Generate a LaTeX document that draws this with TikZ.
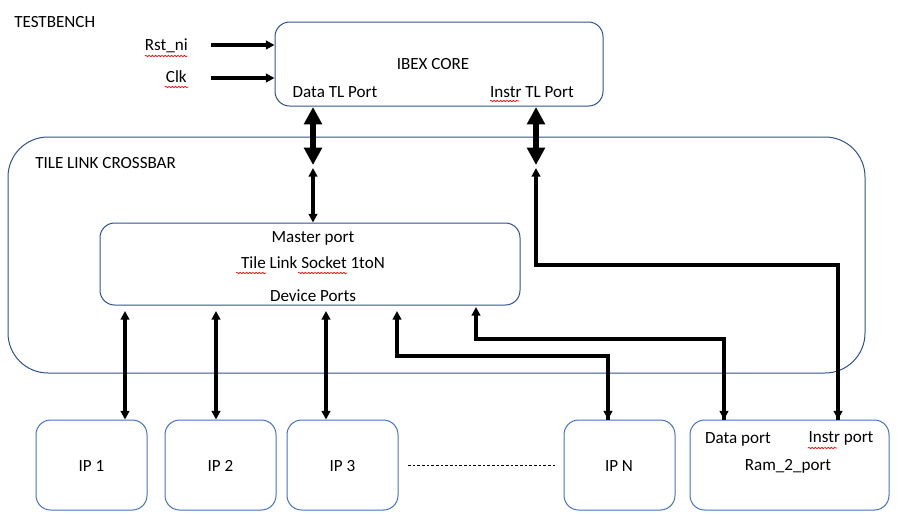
\documentclass[tikz,border=0pt]{standalone}
\usepackage{fontspec}
\setmainfont{Carlito}
\usetikzlibrary{arrows.meta,decorations.pathmorphing}
\definecolor{boxdark}{HTML}{2F528F}
\definecolor{boxlight}{HTML}{4472C4}
\tikzset{
  box/.style={draw=boxdark, line width=0.75pt, rounded corners=11pt, inner sep=0pt},
  lbox/.style={draw=boxlight, line width=0.75pt, rounded corners=11pt, inner sep=0pt},
  lbl/.style={inner sep=0pt, font=\fontsize{12.8}{15}\selectfont},
  arr/.style={line width=2.3pt, -{Triangle[length=6.5pt,width=6.5pt]}},
  darr/.style={line width=2.3pt, {Triangle[length=6.5pt,width=6.5pt]}-{Triangle[length=6.5pt,width=6.5pt]}},
  rarr/.style={line width=2.3pt, {Triangle[length=6.5pt,width=6.5pt]}-, rounded corners=0pt},
  bigarr/.style={line width=4.5pt, {Triangle[length=13pt,width=13pt]}-{Triangle[length=13pt,width=13pt]}},
  squig/.style={red, line width=0.5pt, decorate, decoration={snake, amplitude=0.55pt, segment length=2.4pt}},
}
\begin{document}
\begin{tikzpicture}[x=0.75pt,y=-0.75pt]
\useasboundingbox (0,0) rectangle (905,515);
% boxes
\node[box, minimum width=246pt, minimum height=63pt] (ibex) at (439,64) {};
\node[box, rounded corners=30pt, minimum width=642.75pt, minimum height=177pt] (xbar) at (436.5,255) {};
\node[box, minimum width=315pt, minimum height=61.5pt] (sock) at (310,264) {};
\node[lbox, minimum width=83.25pt, minimum height=67.5pt] (ip1) at (91.5,465) {};
\node[lbox, minimum width=83.25pt, minimum height=67.5pt] (ip2) at (220.5,465) {};
\node[lbox, minimum width=83.25pt, minimum height=67.5pt] (ip3) at (342.5,465) {};
\node[lbox, minimum width=83.25pt, minimum height=67.5pt] (ipn) at (619.5,465) {};
\node[lbox, minimum width=149.25pt, minimum height=67.5pt] (ram) at (789.5,465) {};
% labels
\node[lbl, anchor=west] (tb) at (14,22) {TESTBENCH};
\node[lbl, anchor=east] (rst) at (188,46) {Rst\_ni};
\node[lbl, anchor=east] (clk) at (187,77) {Clk};
\node[lbl] (ibexl) at (433,64) {IBEX CORE};
\node[lbl] (dtl) at (335,92) {Data TL Port};
\node[lbl] (itl) at (532,92) {Instr TL Port};
\node[lbl, anchor=west] (xbl) at (35,163) {TILE LINK CROSSBAR};
\node[lbl] (mp) at (313,238) {Master port};
\node[lbl] (tls) at (313,263) {Tile Link Socket 1toN};
\node[lbl] (dp) at (313,296) {Device Ports};
\node[lbl] (ip1l) at (91.5,466) {IP 1};
\node[lbl] (ip2l) at (220.5,466) {IP 2};
\node[lbl] (ip3l) at (342.5,466) {IP 3};
\node[lbl] (ipnl) at (619,466) {IP N};
\node[lbl] (dport) at (738,439) {Data port};
\node[lbl] (iport) at (841,438) {Instr port};
\node[lbl] (raml) at (788,466) {Ram\_2\_port};
% spell-check squiggles
\draw[squig] (145,56) -- (187,56);
\draw[squig] (165,87) -- (188,87);
\draw[squig] (490,101) -- (519,101);
\draw[squig] (236,273) -- (266,273);
\draw[squig] (298,273) -- (347,273);
\draw[squig] (808,448) -- (837,448);
% coordinates
\coordinate (rs0) at (211,45);
\coordinate (ck0) at (211,78);
\coordinate (d0) at (313,107);
\coordinate (d1) at (313,165);
\coordinate (d2) at (313,168);
\coordinate (i0) at (536,107);
\coordinate (i1) at (536,165);
\coordinate (i2) at (536,168);
\coordinate (ib) at (536,265);
\coordinate (ic) at (838,265);
\coordinate (a1) at (125,311);
\coordinate (a2) at (216,311);
\coordinate (a3) at (326,311);
\coordinate (n0) at (397,311);
\coordinate (n1) at (397,356);
\coordinate (n2) at (608,356);
\coordinate (r0) at (476,307);
\coordinate (r1) at (476,339);
\coordinate (r2) at (724,339);
\coordinate (dl0) at (408,465);
\coordinate (dl1) at (555,465);
% connectors
\draw[arr] (rs0) -- (rs0 -| ibex.west);
\draw[arr] (ck0) -- (ck0 -| ibex.west);
\draw[bigarr] (d0) -- (d1);
\draw[bigarr] (i0) -- (i1);
\draw[darr] (d2) -- (sock.north -| d2);
\draw[rarr] (i2) -- (ib) -- (ic) -- (ic |- ram.north);
\draw[arr] (ic) -- (ic |- ram.north);
\draw[darr] (a1) -- (a1 |- ip1.north);
\draw[darr] (a2) -- (a2 |- ip2.north);
\draw[darr] (a3) -- (a3 |- ip3.north);
\draw[rarr] (n0) -- (n1) -- (n2) -- (n2 |- ipn.north);
\draw[arr] (n2) -- (n2 |- ipn.north);
\draw[rarr] (r0) -- (r1) -- (r2) -- (r2 |- ram.north);
\draw[arr] (r2) -- (r2 |- ram.north);
\draw[line width=0.6pt, dash pattern=on 2pt off 1.5pt] (dl0) -- (dl1);
\end{tikzpicture}
\end{document}
